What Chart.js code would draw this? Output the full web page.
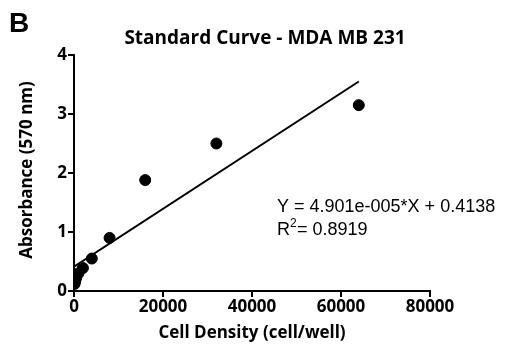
<!DOCTYPE html>
<html>
<head>
<meta charset="utf-8">
<script src="https://cdn.jsdelivr.net/npm/chart.js@4"></script>
<style>
  html, body { margin: 0; padding: 0; background: #fff; }
  #wrap { width: 520px; height: 363px; }
</style>
</head>
<body>
<div id="wrap"><canvas id="curve"></canvas></div>
<script>
// cell density (cells/well) and absorbance
const cellDensity = [125, 250, 500, 1000, 2000, 4000, 8000, 16000, 32000, 64000];
const absorbance = [0.12, 0.16, 0.22, 0.3, 0.39, 0.55, 0.9, 1.88, 2.5, 3.15];

// linear fit shown on the chart
const slope = 4.901e-5;
const intercept = 0.4138;
const fitX = [0, 64000];

const xTicks = [0, 20000, 40000, 60000, 80000];
const yTicks = [0, 1, 2, 3, 4];

const points = cellDensity.map((x, i) => ({ x: x, y: absorbance[i] }));
const fitLine = fitX.map(x => ({ x: x, y: slope * x + intercept }));

const tickFont = { family: 'Open Sans', size: 17, weight: 'bold' };

const textPlugin = {
    id: 'labels',
    afterDraw(chart) {
        const c = chart.ctx;
        const area = chart.chartArea;
        c.save();
        c.fillStyle = '#000';

        c.font = 'bold 28px "Liberation Sans"';
        c.textAlign = 'left';
        c.textBaseline = 'alphabetic';
        c.fillText('B', 9, 32);

        c.font = 'bold 19px "Open Sans"';
        c.textAlign = 'center';
        c.textBaseline = 'middle';
        c.fillText('Standard Curve - MDA MB 231', 265, 39);

        c.font = 'bold 17px "Open Sans"';
        c.fillText('Cell Density (cell/well)', (area.left + area.right) / 2, 333);

        c.save();
        c.translate(27, 170);
        c.rotate(-Math.PI / 2);
        c.fillText('Absorbance (570 nm)', 0, 0);
        c.restore();

        c.font = '18px "Liberation Sans"';
        c.textAlign = 'left';
        c.textBaseline = 'alphabetic';
        c.fillText('Y = 4.901e-005*X + 0.4138', 277, 212);
        c.fillText('R', 277, 235);
        const rw = c.measureText('R').width;
        c.font = '12px "Liberation Sans"';
        c.fillText('2', 277 + rw, 227);
        c.font = '18px "Liberation Sans"';
        c.fillText('= 0.8919', 277 + rw + 7, 235);
        c.restore();
    }
};

new Chart(document.getElementById('curve'), {
    type: 'scatter',
    data: {
        datasets: [{
            data: points,
            backgroundColor: '#000',
            borderColor: '#000',
            pointRadius: 5.5,
            pointHoverRadius: 5.5
        }, {
            type: 'line',
            data: fitLine,
            borderColor: '#000',
            borderWidth: 2,
            pointRadius: 0,
            fill: false
        }]
    },
    options: {
        responsive: true,
        maintainAspectRatio: false,
        animation: false,
        layout: { padding: { top: 55, right: 90, left: 0, bottom: 0 } },
        plugins: { legend: { display: false }, tooltip: { enabled: false } },
        scales: {
            x: {
                type: 'linear',
                min: xTicks[0],
                max: xTicks[xTicks.length - 1],
                afterBuildTicks: s => { s.ticks = xTicks.map(v => ({ value: v })); },
                afterFit: s => { s.height = 72; },
                grid: { drawOnChartArea: false, color: '#000', lineWidth: 2, tickLength: 6 },
                border: { color: '#000', width: 2 },
                ticks: { color: '#000', font: tickFont, padding: 0, maxRotation: 0, callback: v => String(v) }
            },
            y: {
                type: 'linear',
                min: yTicks[0],
                max: yTicks[yTicks.length - 1],
                afterBuildTicks: s => { s.ticks = yTicks.map(v => ({ value: v })); },
                afterFit: s => { s.width = 74; },
                grid: { drawOnChartArea: false, color: '#000', lineWidth: 2, tickLength: 6 },
                border: { color: '#000', width: 2 },
                ticks: { color: '#000', font: tickFont, padding: 1, callback: v => String(v) }
            }
        }
    },
    plugins: [textPlugin]
});
</script>
</body>
</html>
